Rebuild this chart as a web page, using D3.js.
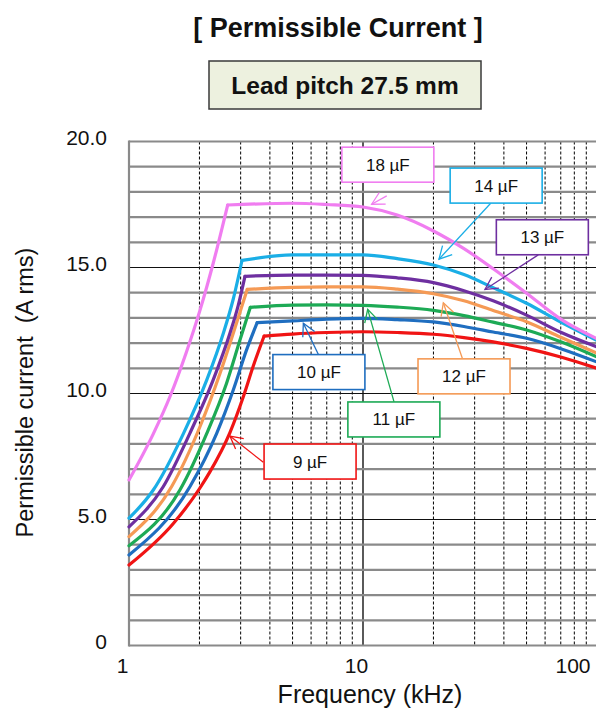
<!DOCTYPE html>
<html><head><meta charset="utf-8">
<script src="https://cdn.jsdelivr.net/npm/d3@7"></script>
<style>
body{margin:0;background:#fff}
svg{display:block;font-family:Arial,"Liberation Sans",sans-serif}
</style>
</head><body>
<svg id="c" width="596" height="709"></svg>
<script>
// ---------- data ----------
const seriesNames = ["9 µF","10 µF","11 µF","12 µF","13 µF","14 µF","18 µF"];
const seriesColors = ["#F01414","#1F6EC0","#1DAA55","#F59A55","#6E2FA0","#1AAEE6","#F07DF0"];

// rising part (frequency kHz, current A rms)
const riseF9  = [1, 1.55, 2.01, 2.22, 2.70, 3.08, 3.40, 3.78];
const riseI9  = [3.19, 4.85, 6.25, 6.90, 8.45, 9.87, 11.10, 12.28];
const riseF10 = [1, 1.82, 2.37, 2.79, 3.18, 3.53];
const riseI10 = [3.59, 6.30, 8.42, 10.14, 11.73, 12.81];
const riseF11 = [1, 1.65, 2.15, 2.61, 2.98, 3.30];
const riseI11 = [3.96, 6.17, 8.42, 10.40, 12.12, 13.42];
const riseF12 = [1, 1.52, 2.01, 2.45, 2.79, 3.20];
const riseI12 = [4.32, 6.30, 8.68, 10.80, 12.39, 14.13];
const riseF13 = [1, 1.40, 1.82, 2.29, 2.70, 2.93, 3.13];
const riseI13 = [4.71, 6.30, 8.42, 10.54, 12.39, 13.50, 14.65];
const riseF14 = [1, 1.27, 1.71, 2.15, 2.53, 2.79, 3.04];
const riseI14 = [5.05, 6.17, 8.42, 10.54, 12.39, 13.75, 15.28];
const riseF18 = [1, 1.27, 1.50, 1.76, 2.01, 2.29, 2.64];
const riseI18 = [6.57, 8.40, 9.90, 11.65, 13.30, 15.17, 17.48];

// plateau / falling part on a shared frequency grid
const fallF  = [5, 7, 10, 14, 20, 27, 36, 50, 70, 100];
const fall9  = [12.36, 12.42, 12.45, 12.42, 12.35, 12.22, 12.05, 11.79, 11.45, 11.00];
const fall10 = [12.88, 12.95, 12.98, 12.93, 12.84, 12.66, 12.44, 12.19, 11.78, 11.25];
const fall11 = [13.51, 13.52, 13.50, 13.43, 13.30, 13.09, 12.83, 12.52, 12.05, 11.45];
const fall12 = [14.21, 14.23, 14.23, 14.14, 13.96, 13.68, 13.29, 12.85, 12.23, 11.60];
const fall13 = [14.70, 14.70, 14.69, 14.59, 14.40, 14.08, 13.68, 13.11, 12.43, 11.85];
const fall14 = [15.50, 15.50, 15.50, 15.35, 15.10, 14.72, 14.20, 13.58, 12.83, 12.10];
const fall18 = [17.55, 17.50, 17.40, 17.08, 16.45, 15.75, 14.95, 13.98, 12.95, 12.17];

const xTickValues = [1, 10, 100];
const xTickLabels = ["1", "10", "100"];
const yTickValues = [0, 5, 10, 15, 20];
const yTickLabels = ["0", "5.0", "10.0", "15.0", "20.0"];

// annotation callouts: box centre, arrow start, arrow tip (in data units)
const annoLabels = ["18 µF","14 µF","13 µF","10 µF","11 µF","12 µF","9 µF"];
const annoSeries = [6, 5, 4, 1, 2, 3, 0];
const annoBoxF   = [12.77, 37.07, 58.4, 6.48, 13.55, 27.02, 5.94];
const annoBoxI   = [19.08, 18.25, 16.2, 10.85, 8.97, 10.68, 7.30];
const annoFromF  = [12.63, 35.13, 56.1, 6.44, 13.57, 26.57, 3.75];
const annoFromI  = [17.84, 17.55, 15.5, 11.56, 9.67, 11.40, 7.27];
const annoTipF   = [10.89, 21.12, 33.2, 5.56, 10.47, 22.04, 2.70];
const annoTipI   = [17.51, 15.33, 14.13, 12.79, 13.34, 13.60, 8.31];

const riseF = [riseF9, riseF10, riseF11, riseF12, riseF13, riseF14, riseF18];
const riseI = [riseI9, riseI10, riseI11, riseI12, riseI13, riseI14, riseI18];
const fallI = [fall9, fall10, fall11, fall12, fall13, fall14, fall18];

// ---------- chart ----------
const svg = d3.select("#c");
const x = d3.scaleLog().domain([1, 100]).range([129, 597]);
const y = d3.scaleLinear().domain([0, 20]).range([645.5, 141.5]);

// title
svg.append("text").attr("x", 338).attr("y", 37).attr("text-anchor", "middle")
  .attr("font-size", 27).attr("font-weight", "bold").attr("fill", "#111")
  .text("[ Permissible Current ]");
svg.append("rect").attr("x", 209).attr("y", 61).attr("width", 272).attr("height", 48)
  .attr("fill", "#EDF1DF").attr("stroke", "#3a3a3a").attr("stroke-width", 1.5);
svg.append("text").attr("x", 345).attr("y", 94).attr("text-anchor", "middle")
  .attr("font-size", 24.5).attr("font-weight", "bold").attr("fill", "#111")
  .text("Lead pitch 27.5 mm");

const grid = svg.append("g");
// vertical grid lines
x.ticks().forEach(v => {
  const lg = Math.log10(v);
  const isDecade = Math.abs(lg - Math.round(lg)) < 1e-9;
  if (v === 1 || v === 100) return;
  grid.append("line").attr("x1", x(v)).attr("x2", x(v)).attr("y1", y(20)).attr("y2", y(0))
    .attr("stroke", "#000").attr("stroke-width", isDecade ? 1.3 : 1)
    .attr("stroke-dasharray", isDecade ? null : "3,2");
});
// horizontal grid lines
y.ticks(20).forEach(v => {
  const major = v % 5 === 0 && v > 0 && v < 20;
  grid.append("line").attr("x1", x(1)).attr("x2", x(100)).attr("y1", y(v)).attr("y2", y(v))
    .attr("stroke", major ? "#111" : "#8a8a8a").attr("stroke-width", major ? 1.2 : 2.2);
});
// left border
grid.append("line").attr("x1", x(1)).attr("x2", x(1)).attr("y1", y(20) - 1).attr("y2", y(0) + 1)
  .attr("stroke", "#8a8a8a").attr("stroke-width", 2.2);

// axes (labels only)
const xAxis = svg.append("g").attr("transform", `translate(0,${y(0)})`)
  .call(d3.axisBottom(x).tickValues(xTickValues).tickFormat((d, i) => xTickLabels[i]).tickSize(0));
xAxis.select(".domain").remove();
xAxis.selectAll("text").attr("font-size", 21).attr("fill", "#111").attr("font-family", null)
  .attr("y", 27.5).attr("dy", null)
  .each(function(d, i) {
    const t = d3.select(this);
    if (i === 2) { t.attr("text-anchor", "end").attr("x", 590 - x(d)); }
    else { t.attr("x", -7); }
  });

const yAxis = svg.append("g").attr("transform", `translate(107,0)`)
  .call(d3.axisLeft(y).tickValues(yTickValues).tickFormat((d, i) => yTickLabels[i]).tickSize(0).tickPadding(0));
yAxis.select(".domain").remove();
yAxis.selectAll("text").attr("font-size", 21).attr("fill", "#111").attr("font-family", null)
  .attr("dy", null).attr("y", 3);

// axis titles
svg.append("text").attr("x", 370).attr("y", 703).attr("text-anchor", "middle")
  .attr("font-size", 25).attr("fill", "#111").text("Frequency (kHz)");
svg.append("text").attr("transform", "translate(33,392.5) rotate(-90)").attr("text-anchor", "middle")
  .attr("font-size", 23.5).attr("fill", "#111").style("white-space", "pre")
  .text("Permissible current  (A rms)");

// curves
const line = d3.line().x(d => x(d[0])).y(d => y(d[1])).curve(d3.curveMonotoneX);
const curves = svg.append("g").attr("fill", "none").attr("stroke-width", 3.2)
  .attr("stroke-linejoin", "round").attr("stroke-linecap", "round");
seriesNames.forEach((name, s) => {
  const rise = riseF[s].map((f, i) => [f, riseI[s][i]]);
  const knee = rise[rise.length - 1];
  const fall = [knee].concat(fallF.map((f, i) => [f, fallI[s][i]]));
  curves.append("path").attr("d", line(rise)).attr("stroke", seriesColors[s]);
  curves.append("path").attr("d", line(fall)).attr("stroke", seriesColors[s]);
});

// callouts
const ann = svg.append("g");
const bw = 92, bh = 35, armLen = 14, armAng = 28 * Math.PI / 180;
annoLabels.forEach((lab, i) => {
  const col = seriesColors[annoSeries[i]];
  const cx = x(annoBoxF[i]), cy = y(annoBoxI[i]);
  const sx = x(annoFromF[i]), sy = y(annoFromI[i]);
  const tx = x(annoTipF[i]), ty = y(annoTipI[i]);
  const a = Math.atan2(ty - sy, tx - sx);
  ann.append("line").attr("x1", sx).attr("y1", sy).attr("x2", tx).attr("y2", ty)
    .attr("stroke", col).attr("stroke-width", 1.3);
  const p1 = [tx - armLen * Math.cos(a - armAng), ty - armLen * Math.sin(a - armAng)];
  const p2 = [tx - armLen * Math.cos(a + armAng), ty - armLen * Math.sin(a + armAng)];
  ann.append("polyline").attr("points", [p1, [tx, ty], p2].map(p => p.join(",")).join(" "))
    .attr("fill", "none").attr("stroke", col).attr("stroke-width", 1.3);
  ann.append("rect").attr("x", cx - bw / 2).attr("y", cy - bh / 2).attr("width", bw).attr("height", bh)
    .attr("fill", "#fff").attr("stroke", col).attr("stroke-width", 1.6);
  ann.append("text").attr("x", cx).attr("y", cy + 6).attr("text-anchor", "middle")
    .attr("font-size", 17).attr("fill", "#111").text(lab);
});
</script>
</body></html>
